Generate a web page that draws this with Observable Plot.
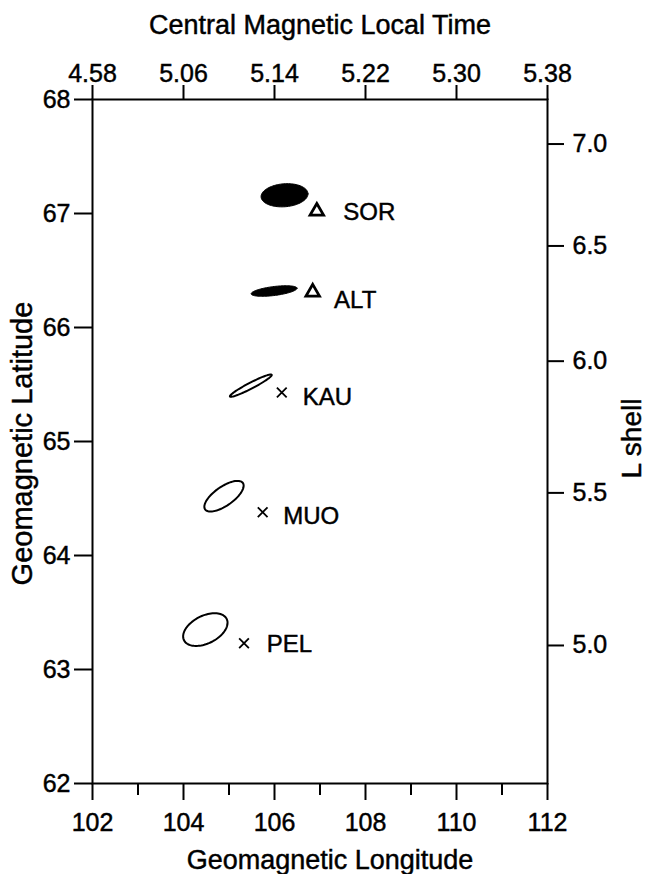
<!DOCTYPE html>
<html>
<head>
<meta charset="utf-8">
<script src="https://cdn.jsdelivr.net/npm/d3@7"></script>
<script src="https://cdn.jsdelivr.net/npm/@observablehq/plot@0.6"></script>
<style>
  html, body { margin: 0; padding: 0; background: #fff; }
  #chart { width: 652px; height: 874px; }
  #chart svg text { stroke: #000; stroke-width: 0.45px; }
</style>
</head>
<body>
<div id="chart"></div>
<script>
// ---- Axis ticks / labels ----
const lonMajorTicks = [102, 104, 106, 108, 110, 112];
const lonMinorTicks = [103, 105, 107, 109, 111];
const mltLabels = ["4.58", "5.06", "5.14", "5.22", "5.30", "5.38"];
const latTicks = [62, 63, 64, 65, 66, 67, 68];
const lShellTicks = [5.0, 5.5, 6.0, 6.5, 7.0];
const earthRadiusRatio = 1.0157; // field-line footprint radius (~100 km altitude)

// ---- Ellipses (centre + conjugate semi-axis vectors in lon/lat degrees) ----
const ellipseStation = ["SOR", "ALT", "KAU", "MUO", "PEL"];
const ellipseLon = [106.22, 105.99, 105.48, 104.89, 104.48];
const ellipseLat = [67.16, 66.32, 65.49, 64.52, 63.35];
const ellipseMajorLon = [0.515, 0.503, 0.459, 0.415, 0.471];
const ellipseMajorLat = [0.012, 0.025, 0.095, 0.116, 0.092];
const ellipseMinorLon = [0.000, 0.012, 0.030, 0.120, 0.128];
const ellipseMinorLat = [-0.101, -0.039, -0.023, -0.068, -0.110];
const ellipseFilled = [true, true, false, false, false];

// ---- Stations ----
const stations = ["SOR", "ALT", "KAU", "MUO", "PEL"];
const stationLon = [106.93, 106.84, 106.16, 105.74, 105.33];
const stationLat = [67.02, 66.31, 65.43, 64.38, 63.23];
const stationSymbol = ["triangle", "triangle", "times", "times", "times"];
const labelLon = [107.51, 107.31, 106.62, 106.19, 105.83];
const labelLat = [67.01, 66.24, 65.39, 64.34, 63.22];

// ---- Build tables ----
const ellipsePts = [];
const N = 90;
ellipseStation.forEach((name, i) => {
  for (let k = 0; k <= N; k++) {
    const t = 2 * Math.PI * k / N;
    ellipsePts.push({
      name, filled: ellipseFilled[i],
      lon: ellipseLon[i] + ellipseMajorLon[i] * Math.cos(t) + ellipseMinorLon[i] * Math.sin(t),
      lat: ellipseLat[i] + ellipseMajorLat[i] * Math.cos(t) + ellipseMinorLat[i] * Math.sin(t)
    });
  }
});
const stationRows = stations.map((s, i) => ({
  s, lon: stationLon[i], lat: stationLat[i], sym: stationSymbol[i],
  llon: labelLon[i], llat: labelLat[i]
}));
const lShellLat = lShellTicks.map(L => Math.acos(Math.sqrt(earthRadiusRatio / L)) * 180 / Math.PI);
const lShellLabel = new Map(lShellLat.map((lat, i) => [lat, lShellTicks[i].toFixed(1)]));

const font = "Liberation Sans, Arial, Helvetica, sans-serif";

const chart = Plot.plot({
  width: 652,
  height: 874,
  marginTop: 99,
  marginRight: 105,
  marginBottom: 91,
  marginLeft: 92,
  x: {domain: [102, 112]},
  y: {domain: [62, 68]},
  style: {fontFamily: font, fontSize: "25px", color: "black", background: "white"},
  marks: [
    // bottom axis
    Plot.axisX(lonMajorTicks, {anchor: "bottom", tickSize: 17, tickPadding: 13, strokeWidth: 2, label: null, tickFormat: d => String(d)}),
    Plot.axisX(lonMinorTicks, {anchor: "bottom", tickSize: 12, strokeWidth: 2, label: null, tickFormat: () => ""}),
    // top axis (MLT)
    Plot.axisX(lonMajorTicks, {anchor: "top", tickSize: 15, tickPadding: 3, strokeWidth: 2, label: null,
      tickFormat: d => mltLabels[lonMajorTicks.indexOf(d)]}),
    // left axis
    Plot.axisY(latTicks, {anchor: "left", tickSize: 18, tickPadding: 4, strokeWidth: 2, label: null, tickFormat: d => String(d)}),
    // right axis (L shell)
    Plot.axisY(lShellLat, {anchor: "right", tickSize: 16, tickPadding: 9, strokeWidth: 2, label: null,
      tickFormat: d => lShellLabel.get(d)}),
    Plot.frame({stroke: "black", strokeWidth: 2}),
    // axis titles
    Plot.text(["Central Magnetic Local Time"], {frameAnchor: "top", dy: -74, fontSize: 27, lineAnchor: "middle", textAnchor: "middle"}),
    Plot.text(["Geomagnetic Longitude"], {frameAnchor: "bottom", dy: 77, dx: 10, fontSize: 27, lineAnchor: "middle", textAnchor: "middle"}),
    Plot.text(["Geomagnetic Latitude"], {frameAnchor: "left", dx: -70, dy: 2, rotate: -90, fontSize: 29, lineAnchor: "middle", textAnchor: "middle"}),
    Plot.text(["L shell"], {frameAnchor: "right", dx: 85, dy: -3, rotate: -90, fontSize: 28, lineAnchor: "middle", textAnchor: "middle"}),
    // ellipses
    Plot.line(ellipsePts.filter(d => d.filled), {x: "lon", y: "lat", z: "name", curve: "linear-closed", fill: "black", stroke: "black", strokeWidth: 1}),
    Plot.line(ellipsePts.filter(d => !d.filled), {x: "lon", y: "lat", z: "name", curve: "linear-closed", fill: "none", stroke: "black", strokeWidth: 2}),
    // stations
    Plot.dot(stationRows.filter(d => d.sym === "triangle"), {x: "lon", y: "lat", symbol: "triangle", r: 5, stroke: "black", fill: "white", strokeWidth: 2.8}),
    Plot.dot(stationRows.filter(d => d.sym === "times"), {x: "lon", y: "lat", symbol: "times", r: 4.5, stroke: "black", strokeWidth: 1.8}),
    Plot.text(stationRows, {x: "llon", y: "llat", text: "s", textAnchor: "start", fontSize: 24, lineAnchor: "middle"})
  ]
});
document.getElementById("chart").appendChild(chart);
</script>
</body>
</html>
